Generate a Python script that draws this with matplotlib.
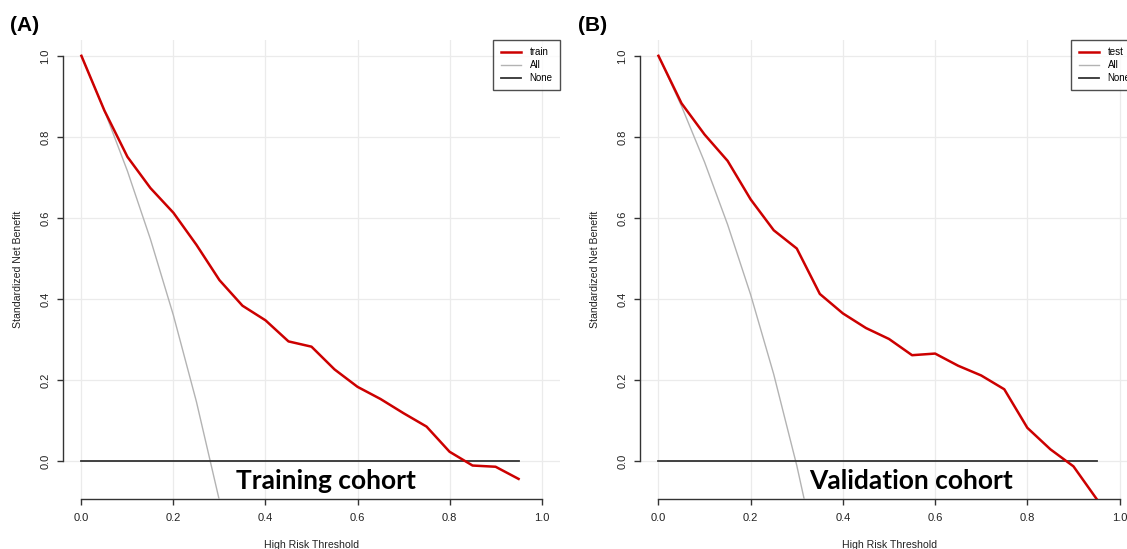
import matplotlib
matplotlib.use("Agg")
import matplotlib.pyplot as plt

# ---------------------------------------------------------------------------
# Data
# ---------------------------------------------------------------------------
thresholds = [0.0, 0.05, 0.1, 0.15, 0.2, 0.25, 0.3, 0.35, 0.4, 0.45,
              0.5, 0.55, 0.6, 0.65, 0.7, 0.75, 0.8, 0.85, 0.9, 0.95]

train_nb = [1.0, 0.865, 0.751, 0.674, 0.613, 0.534, 0.447, 0.384, 0.348, 0.296,
            0.283, 0.227, 0.184, 0.154, 0.119, 0.086, 0.024, -0.010, -0.013, -0.043]
test_nb = [1.0, 0.883, 0.806, 0.741, 0.646, 0.570, 0.525, 0.413, 0.365, 0.329,
           0.302, 0.262, 0.266, 0.236, 0.212, 0.178, 0.083, 0.030, -0.012, -0.092]

all_x = [0.0, 0.05, 0.1, 0.15, 0.2, 0.25, 0.3, 0.35]
train_all = [1.0, 0.865, 0.716, 0.548, 0.360, 0.147, -0.097, -0.38]
test_all = [1.0, 0.876, 0.738, 0.584, 0.411, 0.215, -0.010, -0.268]

none_x = [0.0, 0.95]
none_nb = [0.0, 0.0]

ticks = [0.0, 0.2, 0.4, 0.6, 0.8, 1.0]
tick_labels = ["0.0", "0.2", "0.4", "0.6", "0.8", "1.0"]

RED = "#cc0000"
GREY = "#b3b3b3"
DARK = "#333333"

W, H = 1127, 549
fig = plt.figure(figsize=(W / 100, H / 100), dpi=100)
plt.rcParams["font.family"] = ["Liberation Sans", "DejaVu Sans"]


def px_axes(left, right, top, bottom):
    return fig.add_axes([left / W, (H - bottom) / H, (right - left) / W, (bottom - top) / H])


def draw_panel(ax, nb, all_nb, name, cohort, cohort_x):
    ax.set_xlim(-0.04, 1.04)
    ax.set_ylim(-0.0925, 1.039)
    ax.grid(True, color="#ebebeb", lw=0.9)
    ax.set_axisbelow(True)
    ax.plot(thresholds, nb, color=RED, lw=1.8, label=name, zorder=4)
    ax.plot(all_x, all_nb, color=GREY, lw=1.0, label="All", zorder=3)
    ax.plot(none_x, none_nb, color=DARK, lw=1.3, label="None", zorder=3)

    for s in ("top", "right"):
        ax.spines[s].set_visible(False)
    for s in ("left", "bottom"):
        ax.spines[s].set_bounds(0, 1)
        ax.spines[s].set_color(DARK)
        ax.spines[s].set_linewidth(1.0)
    ax.set_xticks(ticks, tick_labels)
    ax.set_yticks(ticks, tick_labels)
    ax.tick_params(length=4, width=1.0, color=DARK, labelsize=8, labelcolor="#222222")
    ax.tick_params(axis="x", pad=6)
    ax.tick_params(axis="y", pad=5)
    plt.setp(ax.get_yticklabels(), rotation=90, va="center")

    ax.set_xlabel("High Risk Threshold", fontsize=7.6, color="#222222")
    ax.xaxis.label.set_va("center")
    ax.xaxis.set_label_coords(0.5, -0.1)
    ax.set_ylabel("Standardized Net Benefit", fontsize=7.6, color="#222222")
    ax.yaxis.label.set_va("center")
    ax.yaxis.set_label_coords(-0.09, 0.5)

    leg = ax.legend(loc="upper right", borderaxespad=0, fancybox=False,
                    edgecolor="#222222", fontsize=7, handlelength=2.15,
                    handletextpad=0.85, borderpad=0.75, labelspacing=0.3)
    leg.get_frame().set_linewidth(1.0)

    ax.text(cohort_x, -0.048, cohort, fontsize=19, fontweight="bold",
            family=["Lato", "DejaVu Sans"], ha="center", va="center", zorder=5)


ax_a = px_axes(63, 560, 40, 499)
draw_panel(ax_a, train_nb, train_all, "train", "Training cohort", 0.532)

ax_b = px_axes(640, 1138, 40, 499)
draw_panel(ax_b, test_nb, test_all, "test", "Validation cohort", 0.548)

# panel tags
fig.text(10 / W, 1 - 25.5 / H, "(A)", fontsize=15, fontweight="bold", ha="left", va="center")
fig.text(578 / W, 1 - 25.5 / H, "(B)", fontsize=15, fontweight="bold", ha="left", va="center")

fig.savefig("out.png", dpi=100)
